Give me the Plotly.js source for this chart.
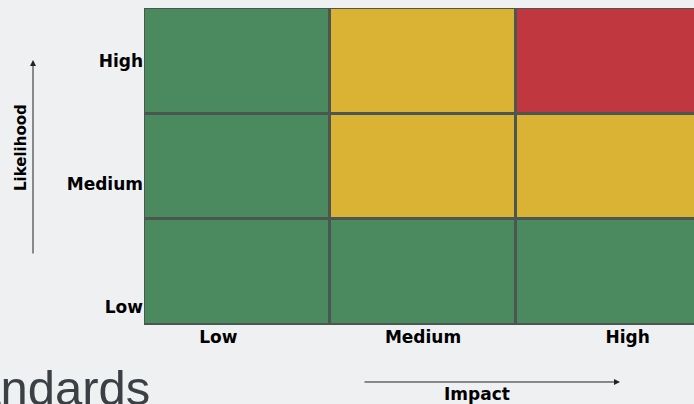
<!DOCTYPE html>
<html>
<head>
<meta charset="utf-8">
<script src="https://cdn.plot.ly/plotly-3.0.1.min.js"></script>
<style>html,body{margin:0;padding:0;background:#eff0f2;}#chart{width:694px;height:404px;}</style>
</head>
<body>
<div id="chart"></div>
<script>
// Data
var impactLabels = ["Low", "Medium", "High"];
var likelihoodLabels = ["Low", "Medium", "High"];
// risk level per cell: rows = likelihood (Low..High), cols = impact (Low..High)
// 0 = low risk (green), 1 = medium risk (amber), 2 = high risk (red)
var riskLow = [0, 0, 0];
var riskMedium = [0, 1, 1];
var riskHigh = [0, 1, 2];
var riskColors = ["#4b895e", "#dab234", "#c0373f"];
var xTickPos = [-0.1, 1.0, 2.1];
var yTickPos = [-0.33, 0.83, 2.0];

var z = [riskLow, riskMedium, riskHigh];
var cs = [
  [0, riskColors[0]], [0.333, riskColors[0]],
  [0.334, riskColors[1]], [0.666, riskColors[1]],
  [0.667, riskColors[2]], [1, riskColors[2]]
];

var trace = {
  type: "heatmap",
  z: z,
  colorscale: cs,
  zmin: 0, zmax: 2,
  showscale: false,
  xgap: 3, ygap: 3,
  hoverinfo: "skip"
};

var tickFont = {family: "DejaVu Sans", size: 17, color: "#000", weight: "bold"};

var layout = {
  width: 694, height: 404,
  margin: {l: 144, r: 0, t: 8, b: 79, pad: 0},
  paper_bgcolor: "#eff0f2",
  plot_bgcolor: "#4a564f",
  showlegend: false,
  xaxis: {
    range: [-0.5, 2.457],
    tickvals: xTickPos, ticktext: impactLabels,
    tickfont: tickFont,
    showgrid: false, zeroline: false, showline: false, ticks: "",
    fixedrange: true
  },
  yaxis: {
    range: [-0.5, 2.5],
    tickvals: yTickPos, ticktext: likelihoodLabels,
    tickfont: tickFont,
    showgrid: false, zeroline: false, showline: false, ticks: "",
    ticklabelstandoff: 0,
    fixedrange: true
  },
  annotations: [
    {xref: "paper", yref: "paper", x: -0.2018, y: 0.836, ax: 0, ay: 195,
     text: "", showarrow: true, arrowhead: 2, arrowsize: 1.2, arrowwidth: 1, arrowcolor: "#222"},
    {xref: "paper", yref: "paper", x: 0.8655, y: -0.1798, ax: -257, ay: 0,
     text: "", showarrow: true, arrowhead: 2, arrowsize: 1.2, arrowwidth: 1, arrowcolor: "#222"},
    {xref: "paper", yref: "paper", x: (21 - 144) / 550, y: (325 - 148) / 317,
     text: "Likelihood", textangle: -90, showarrow: false,
     font: {family: "DejaVu Sans", size: 15, color: "#000", weight: "bold"},
     xanchor: "center", yanchor: "middle"},
    {xref: "paper", yref: "paper", x: (477 - 144) / 550, y: (325 - 394) / 317,
     text: "Impact", showarrow: false,
     font: {family: "DejaVu Sans", size: 17, color: "#000", weight: "bold"},
     xanchor: "center", yanchor: "middle"},
    {xref: "paper", yref: "paper", x: (152 - 144) / 550, y: (325 - 388) / 317,
     text: "Standards", showarrow: false,
     font: {family: "Liberation Sans", size: 49, color: "#3b4045"},
     xanchor: "right", yanchor: "middle"}
  ]
};

Plotly.newPlot("chart", [trace], layout, {staticPlot: true, displayModeBar: false});
</script>
</body>
</html>
